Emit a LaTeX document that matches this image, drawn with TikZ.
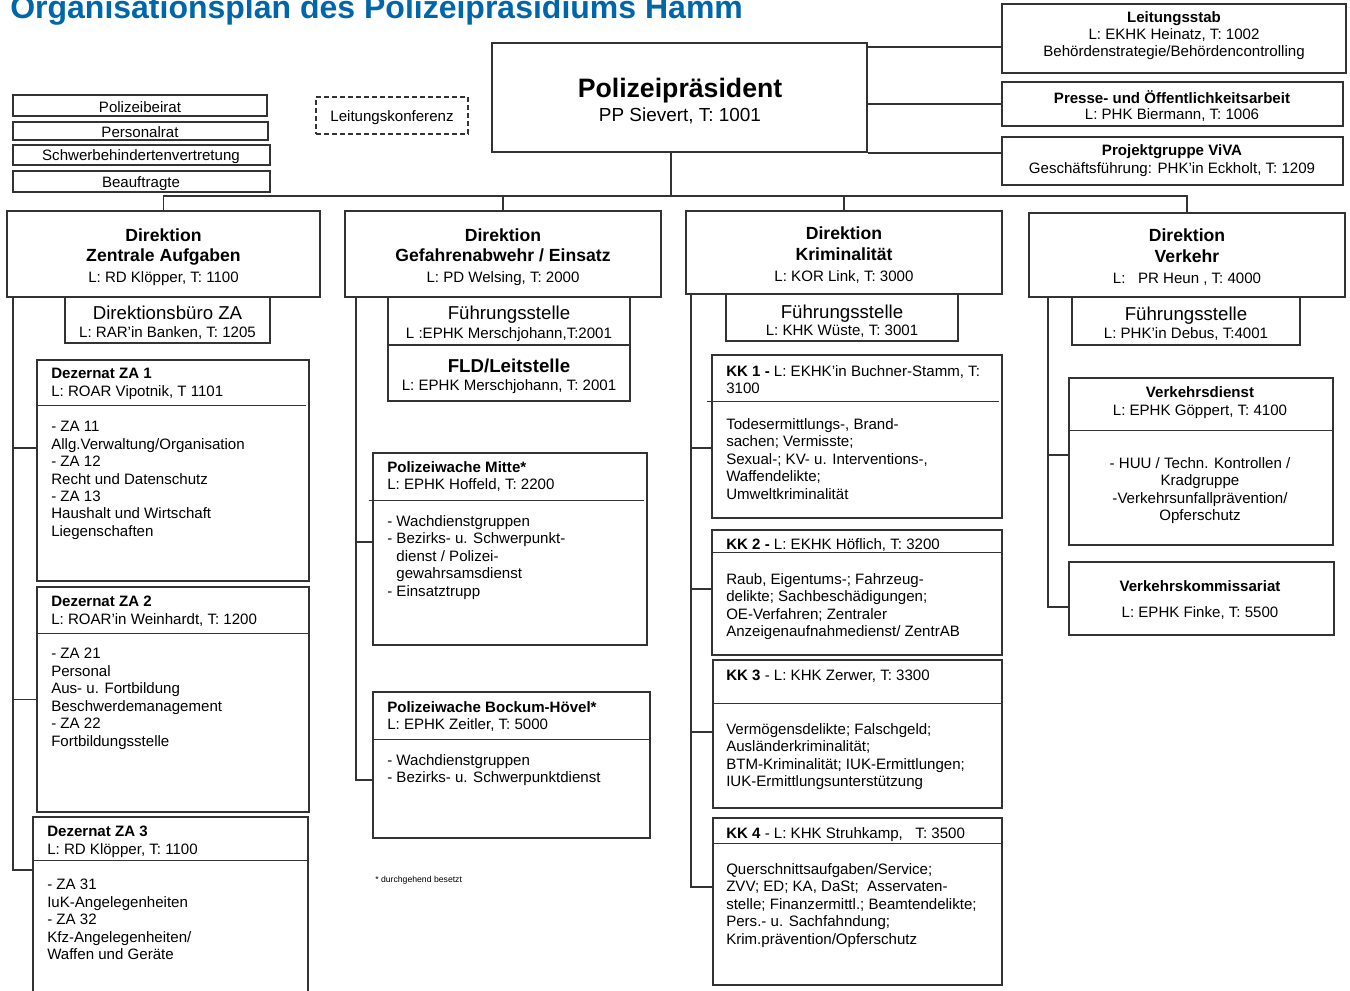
\documentclass[tikz,border=0pt]{standalone}
\usepackage{fontspec}
\setmainfont{Liberation Sans}
\usetikzlibrary{fit,calc}
\definecolor{titleblue}{RGB}{0,102,170}
\newcommand\fsS{\fontsize{11.3}{13.1}\selectfont}
\newcommand\fsM{\fontsize{14}{16}\selectfont}
\newcommand\fsD{\fontsize{13.2}{15.4}\selectfont}
\begin{document}
\begin{tikzpicture}[x=0.75pt, y=-0.75pt,
  box/.style={draw=black!80, line width=1.1pt, inner sep=0pt},
  dbox/.style={draw=black!80, line width=1.1pt, inner sep=0pt, dash pattern=on 3.5pt off 2.5pt},
  lt/.style={inner sep=0pt, anchor=north west, align=left, font=\fsS, yshift=-1.5pt},
  ct/.style={inner sep=0pt, anchor=center, align=center, font=\fsS, yshift=-1.2pt},
  conn/.style={draw=black!80, line width=1.2pt},
  sepline/.style={draw=black!80, line width=1.1pt}]
\clip (0,0) rectangle (1350,990);
\fill[white] (0,0) rectangle (1350,990);

% title
\node[anchor=base west, inner sep=0pt, text=titleblue, font={\fontsize{24}{28}\selectfont\bfseries}] (title) at (10,18) {Organisationsplan des Polizeipräsidiums Hamm};

% left small boxes
\node[box, fit={(13,95) (267,116)}] (pbr) {};
\node[ct] (pbrT) at (140,106) {Polizeibeirat};
\node[box, fit={(13,122) (268,140)}] (prat) {};
\node[ct] (pratT) at (140,131) {Personalrat};
\node[box, fit={(13,145) (270,165)}] (swb) {};
\node[ct] (swbT) at (141,155) {Schwerbehindertenvertretung};
\node[box, fit={(13,171) (270,192)}] (bea) {};
\node[ct] (beaT) at (141,182) {Beauftragte};
\node[dbox, fit={(316,97) (468,134)}] (lk) {};
\node[ct] (lkT) at (392,116) {Leitungskonferenz};

% Polizeipraesident
\node[box, fit={(492,43) (867,152)}] (pp) {};
\node[ct, font={\fontsize{14.2}{18}\selectfont}] (ppT) at (680,99) {{\fontsize{20}{18}\selectfont\bfseries Polizeipräsident}\\PP Sievert, T: 1001};

% right staff boxes
\node[box, fit={(1002,4) (1346,73)}] (ls) {};
\node[ct, font={\fontsize{11.3}{12.75}\selectfont}] (lsT) at (1174,34) {\textbf{Leitungsstab}\\L: EKHK Heinatz, T: 1002\\Behördenstrategie/Behördencontrolling};
\node[box, fit={(1002,82) (1343,126)}] (pr) {};
\node[ct, font={\fontsize{11.3}{11.5}\selectfont}] (prT) at (1172,104.5) {\textbf{Presse- und Öffentlichkeitsarbeit}\\L: PHK Biermann, T: 1006};
\node[box, fit={(1002,137) (1343,185)}] (pg) {};
\node[ct, font={\fontsize{11.3}{13.1}\selectfont}] (pgT) at (1172,159) {\textbf{Projektgruppe ViVA}\\Geschäftsführung: PHK'in Eckholt, T: 1209};

% Direktionen
\node[box, fit={(7,211) (320,297)}] (dza) {};
\node[ct, font=\fsD] (dzaT) at (163.5,255.5) {\textbf{Direktion}\\\textbf{Zentrale Aufgaben}\\{\fsS L: RD Klöpper, T: 1100}};
\node[box, fit={(345,211) (661,297)}] (dge) {};
\node[ct, font=\fsD] (dgeT) at (503,255.5) {\textbf{Direktion}\\\textbf{Gefahrenabwehr / Einsatz}\\{\fsS L: PD Welsing, T: 2000}};
\node[box, fit={(686,211) (1002,294)}] (dkr) {};
\node[ct, font=\fsD] (dkrT) at (844,253.5) {\textbf{Direktion}\\\textbf{Kriminalität}\\{\fsS L: KOR Link, T: 3000}};
\node[box, fit={(1029,213) (1345,297)}] (dvk) {};
\node[ct, font=\fsD] (dvkT) at (1187,255.5) {\textbf{Direktion}\\\textbf{Verkehr}\\{\fsS L:\ \ \ PR Heun , T: 4000}};

% sub offices
\node[box, fit={(65,297) (270,343)}] (dbza) {};
\node[ct, font={\fontsize{11.3}{13.5}\selectfont}] (dbzaT) at (167.5,321) {{\fsM Direktionsbüro ZA}\\L: RAR'in Banken, T: 1205};
\node[box, fit={(388,297) (630,345)}] (fge) {};
\node[ct, font={\fontsize{11.3}{14.5}\selectfont}] (fgeT) at (509,322) {{\fsM Führungsstelle}\\L :EPHK Merschjohann,T:2001};
\node[box, fit={(388,345) (630,401)}] (fld) {};
\node[ct, font={\fontsize{11.3}{13.1}\selectfont}] (fldT) at (509,374.5) {{\fsM\bfseries FLD/Leitstelle}\\L: EPHK Merschjohann, T: 2001};
\node[box, fit={(726,294) (958,341)}] (fkr) {};
\node[ct, font={\fontsize{11.3}{13.1}\selectfont}] (fkrT) at (842,319.5) {{\fsM Führungsstelle}\\L: KHK Wüste, T: 3001};
\node[box, fit={(1072,297) (1300,345)}] (fvk) {};
\node[ct, font={\fontsize{11.3}{13.5}\selectfont}] (fvkT) at (1186,322) {{\fsM Führungsstelle}\\L: PHK'in Debus, T:4001};

% Dezernate ZA
\node[box, fit={(37,360) (309,581)}] (dz1) {};
\node[lt] (dz1H) at (51,366) {\textbf{Dezernat ZA 1}\\L: ROAR Vipotnik, T 1101};
\draw[sepline] ($(dz1.north west)+(0,46)$) -- ($(dz1.north east)+(-4,46)$);
\node[lt] (dz1B) at (51,419) {- ZA 11\\Allg.Verwaltung/Organisation\\- ZA 12\\Recht und Datenschutz\\- ZA 13\\Haushalt und Wirtschaft\\Liegenschaften};

\node[box, fit={(37,587) (309,812)}] (dz2) {};
\node[lt] (dz2H) at (51,594) {\textbf{Dezernat ZA 2}\\L: ROAR'in Weinhardt, T: 1200};
\draw[sepline] ($(dz2.north west)+(0,47)$) -- ($(dz2.north east)+(0,47)$);
\node[lt] (dz2B) at (51,646) {- ZA 21\\Personal\\Aus- u. Fortbildung\\Beschwerdemanagement\\- ZA 22\\Fortbildungsstelle};

\node[box, fit={(33,817) (308,1000)}] (dz3) {};
\node[lt] (dz3H) at (47,824) {\textbf{Dezernat ZA 3}\\L: RD Klöpper, T: 1100};
\draw[sepline] ($(dz3.north west)+(0,44)$) -- ($(dz3.north east)+(0,44)$);
\node[lt] (dz3B) at (47,877) {- ZA 31\\IuK-Angelegenheiten\\- ZA 32\\Kfz-Angelegenheiten/\\Waffen und Geräte};

% Polizeiwachen
\node[box, fit={(373,453) (647,645)}] (pwm) {};
\node[lt] (pwmH) at (387,459) {\textbf{Polizeiwache Mitte*}\\L: EPHK Hoffeld, T: 2200};
\draw[sepline] ($(pwm.north west)+(-3,48)$) -- ($(pwm.north east)+(-4,48)$);
\node[lt] (pwmB) at (387,513) {- Wachdienstgruppen\\- Bezirks- u. Schwerpunkt-\\\hphantom{- }dienst / Polizei-\\\hphantom{- }gewahrsamsdienst\\- Einsatztrupp};

\node[box, fit={(373,692) (650,838)}] (pwb) {};
\node[lt] (pwbH) at (387,699) {\textbf{Polizeiwache Bockum-Hövel*}\\L: EPHK Zeitler, T: 5000};
\draw[sepline] ($(pwb.north west)+(0,48)$) -- ($(pwb.north east)+(0,48)$);
\node[lt] (pwbB) at (387,752) {- Wachdienstgruppen\\- Bezirks- u. Schwerpunktdienst};

\node[lt, font={\fontsize{6.5}{8}\selectfont}] (fn) at (375,874) {* durchgehend besetzt};

% Kriminalkommissariate
\node[box, fit={(712,355) (1002,518)}] (kk1) {};
\node[lt] (kk1H) at (726,363) {\textbf{KK 1 -} L: EKHK'in Buchner-Stamm, T:\\3100};
\draw[sepline] ($(kk1.north west)+(-4,47)$) -- ($(kk1.north east)+(-4,47)$);
\node[lt] (kk1B) at (726,416) {Todesermittlungs-, Brand-\\sachen; Vermisste;\\Sexual-; KV- u. Interventions-,\\Waffendelikte;\\Umweltkriminalität};

\node[box, fit={(712,530) (1002,655)}] (kk2) {};
\node[lt] (kk2H) at (726,536) {\textbf{KK 2 -} L: EKHK Höflich, T: 3200};
\draw[sepline] ($(kk2.north west)+(0,23)$) -- ($(kk2.north east)+(0,23)$);
\node[lt] (kk2B) at (726,571) {Raub, Eigentums-; Fahrzeug-\\delikte; Sachbeschädigungen;\\OE-Verfahren; Zentraler\\Anzeigenaufnahmedienst/ ZentrAB};

\node[box, fit={(713,660) (1002,808)}] (kk3) {};
\node[lt] (kk3H) at (726,668) {\textbf{KK 3} - L: KHK Zerwer, T: 3300};
\draw[sepline] ($(kk3.north west)+(0,44)$) -- ($(kk3.north east)+(0,44)$);
\node[lt] (kk3B) at (726,721) {Vermögensdelikte; Falschgeld;\\Ausländerkriminalität;\\BTM-Kriminalität; IUK-Ermittlungen;\\IUK-Ermittlungsunterstützung};

\node[box, fit={(713,818) (1002,985)}] (kk4) {};
\node[lt] (kk4H) at (726,825) {\textbf{KK 4} - L: KHK Struhkamp,\ \ \ T: 3500};
\draw[sepline] ($(kk4.north west)+(0,26)$) -- ($(kk4.north east)+(0,26)$);
\node[lt] (kk4B) at (726,861) {Querschnittsaufgaben/Service;\\ZVV; ED; KA, DaSt;\ \ Asservaten-\\stelle; Finanzermittl.; Beamtendelikte;\\Pers.- u. Sachfahndung;\\Krim.prävention/Opferschutz};

% Verkehr
\node[box, fit={(1069,378) (1333,545)}] (vd) {};
\node[ct] (vdH) at (1200,401) {\textbf{Verkehrsdienst}\\L: EPHK Göppert, T: 4100};
\draw[sepline] ($(vd.north west)+(0,53)$) -- ($(vd.north east)+(0,53)$);
\node[ct] (vdB) at (1200,489) {- HUU / Techn. Kontrollen /\\Kradgruppe\\-Verkehrsunfallprävention/\\Opferschutz};

\node[box, fit={(1069,562) (1334,635)}] (vkm) {};
\node[ct, font={\fontsize{11.3}{19.5}\selectfont}] (vkmT) at (1200,598) {\textbf{Verkehrskommissariat}\\L: EPHK Finke, T: 5500};

% connectors from Polizeipraesident
\coordinate (lsc) at ($(ls.west)+(0,8.5)$);
\draw[conn] (pp.east |- lsc) -- (lsc);
\draw[conn] (pr.west -| pp.east) -- (pr.west);
\draw[conn] (pp.south east) -- (pp.south east -| pg.west);
\coordinate (ppd) at ($(pp.south)+(-8.5,0)$);
\coordinate (barL) at ($(dza.north)+(0,-14)$);
\draw[conn] (ppd) -- (ppd |- barL);
\draw[conn] (dza.north) |- (dvk.north |- barL) -- (dvk.north);
\draw[conn] (dge.north) -- (dge.north |- barL);
\draw[conn] (dkr.north) -- (dkr.north |- barL);

% ZA branches
\coordinate (zaV) at ($(dza.south west)+(7,0)$);
\draw[conn] (zaV) |- ($(dz3.north west)+(0,54)$);
\draw[conn] ($(dz1.north west)+(0,89)$) -| (zaV);
\draw[conn] (dz2.west) -| (zaV);

% GE branches
\coordinate (geV) at ($(dge.south west)+(12,0)$);
\draw[conn] (geV) |- ($(pwb.north west)+(0,89)$);
\draw[conn] ($(pwm.north west)+(0,90)$) -| (geV);

% Krim branches
\coordinate (krV) at ($(dkr.south west)+(6,0)$);
\draw[conn] (krV) |- ($(kk4.north west)+(0,70)$);
\draw[conn] ($(kk1.north west)+(0,94)$) -| (krV);
\draw[conn] ($(kk2.north west)+(0,60)$) -| (krV);
\draw[conn] ($(kk3.north west)+(0,73)$) -| (krV);

% Verkehr branches
\coordinate (vkV) at ($(dvk.south west)+(20,0)$);
\draw[conn] (vkV) |- ($(vkm.north west)+(0,46)$);
\draw[conn] ($(vd.north west)+(0,78)$) -| (vkV);
\end{tikzpicture}
\end{document}
